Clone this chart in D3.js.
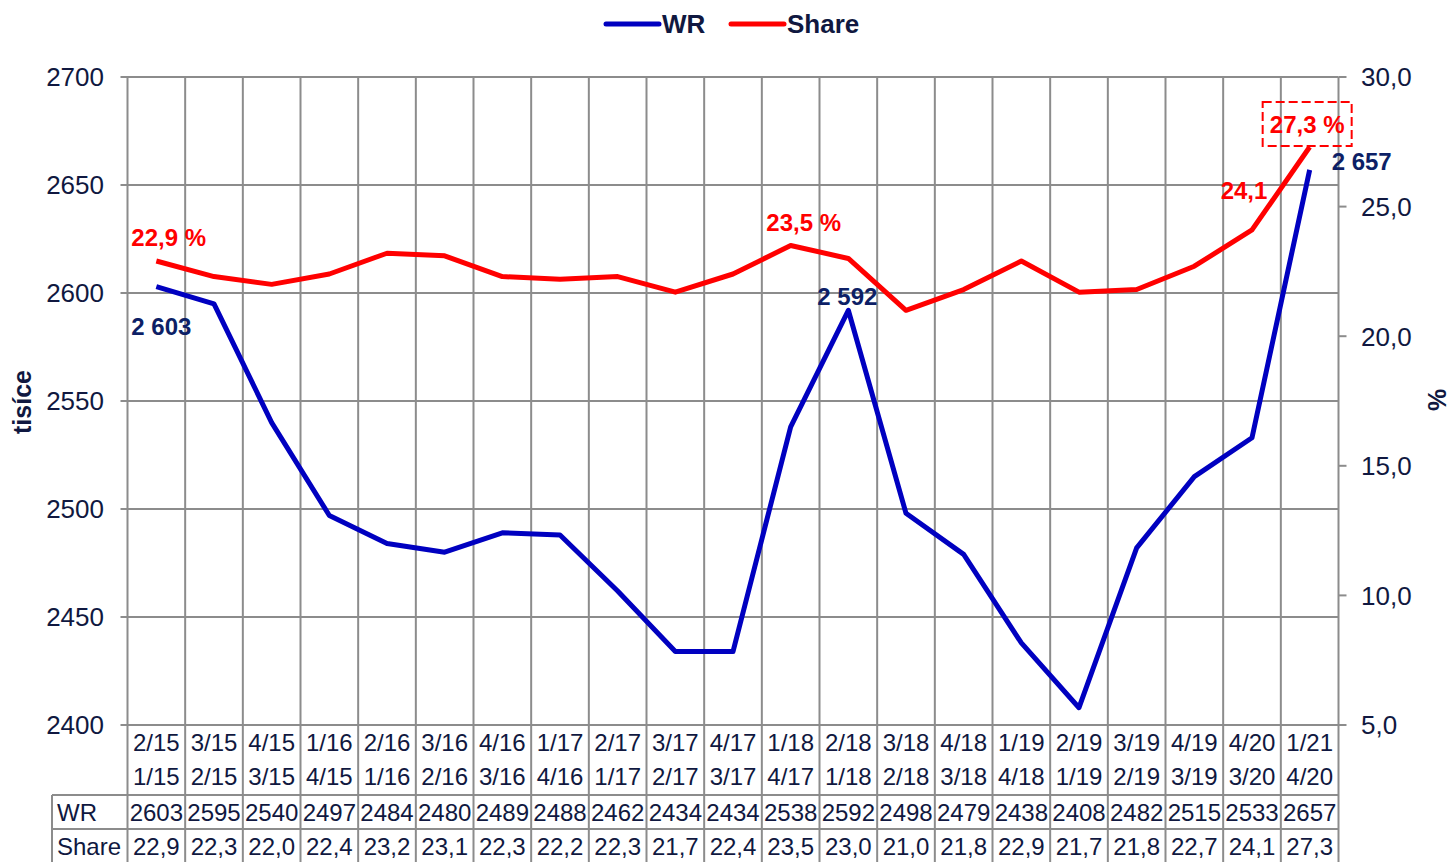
<!DOCTYPE html>
<html><head><meta charset="utf-8">
<script src="https://cdn.jsdelivr.net/npm/d3@7"></script>
<style>body{margin:0;background:#fff}svg{display:block;font-family:"Liberation Sans",Arial,sans-serif}</style>
</head><body><svg id="c" width="1451" height="862"></svg>
<script>
const catTop = ["2/15","3/15","4/15","1/16","2/16","3/16","4/16","1/17","2/17","3/17","4/17","1/18","2/18","3/18","4/18","1/19","2/19","3/19","4/19","4/20","1/21"];
const catBottom = ["1/15","2/15","3/15","4/15","1/16","2/16","3/16","4/16","1/17","2/17","3/17","4/17","1/18","2/18","3/18","4/18","1/19","2/19","3/19","3/20","4/20"];
const wr = [2603,2595,2540,2497,2484,2480,2489,2488,2462,2434,2434,2538,2592,2498,2479,2438,2408,2482,2515,2533,2657];
const share = [22.9,22.3,22.0,22.4,23.2,23.1,22.3,22.2,22.3,21.7,22.4,23.5,23.0,21.0,21.8,22.9,21.7,21.8,22.7,24.1,27.3];
const leftTicks = [2400,2450,2500,2550,2600,2650,2700];
const rightTicks = [5,10,15,20,25,30];

const svg = d3.select("#c");
const L=127.5, R=1338.5, T=77, B=725;
const txt="#101840", grid="#8c8c8c";
const idx = d3.range(wr.length);
const x = d3.scaleBand().domain(idx).range([L,R]);
const yL = d3.scaleLinear().domain([2400,2700]).range([B,T]);
const yR = d3.scaleLinear().domain([5,30]).range([B,T]);
const cx = i => x(i)+x.bandwidth()/2;
const fmtC = v => d3.format(".1f")(v).replace(".",",");

// horizontal gridlines
svg.append("g").selectAll("line").data(leftTicks).join("line")
  .attr("x1",L-7).attr("x2",R).attr("y1",d=>yL(d)).attr("y2",d=>yL(d))
  .attr("stroke",grid).attr("stroke-width",2);
// right ticks
svg.append("g").selectAll("line").data(rightTicks).join("line")
  .attr("x1",R).attr("x2",R+8).attr("y1",d=>yR(d)).attr("y2",d=>yR(d))
  .attr("stroke",grid).attr("stroke-width",2);
// vertical lines (category boundaries) through table
const bounds = idx.map(i=>x(i)).concat([R]);
svg.append("g").selectAll("line").data(bounds).join("line")
  .attr("x1",d=>d).attr("x2",d=>d).attr("y1",T).attr("y2",862)
  .attr("stroke",grid).attr("stroke-width",2);
// table lines
const rowY=[795,829,863];
svg.append("g").selectAll("line").data(rowY).join("line")
  .attr("x1",52).attr("x2",R).attr("y1",d=>d).attr("y2",d=>d)
  .attr("stroke",grid).attr("stroke-width",2);
svg.append("line").attr("x1",52).attr("x2",52).attr("y1",795).attr("y2",862).attr("stroke",grid).attr("stroke-width",2);

// axis labels
svg.append("g").selectAll("text").data(leftTicks).join("text")
  .attr("x",104).attr("y",d=>yL(d)).attr("dy","0.36em").attr("text-anchor","end")
  .attr("font-size",26).attr("fill",txt).text(d=>d);
svg.append("g").selectAll("text").data(rightTicks).join("text")
  .attr("x",1361).attr("y",d=>yR(d)).attr("dy","0.36em").attr("text-anchor","start")
  .attr("font-size",26).attr("fill",txt).text(d=>fmtC(d));
svg.append("text").attr("transform","translate(31,402) rotate(-90)").attr("text-anchor","middle")
  .attr("font-size",25).attr("font-weight","bold").attr("fill",txt).text("tisíce");
svg.append("text").attr("transform","translate(1446,400) rotate(-90)").attr("text-anchor","middle")
  .attr("font-size",25).attr("font-weight","bold").attr("fill",txt).text("%");

// table text
const tt = svg.append("g").attr("font-size",24).attr("fill",txt).attr("text-anchor","middle");
tt.selectAll(".t1").data(catTop).join("text").attr("x",(d,i)=>cx(i)).attr("y",742).attr("dy","0.36em").text(d=>d);
tt.selectAll(".t2").data(catBottom).join("text").attr("x",(d,i)=>cx(i)).attr("y",776).attr("dy","0.36em").text(d=>d);
tt.selectAll(".t3").data(wr).join("text").attr("x",(d,i)=>cx(i)).attr("y",812).attr("dy","0.36em").text(d=>d);
tt.selectAll(".t4").data(share).join("text").attr("x",(d,i)=>cx(i)).attr("y",846).attr("dy","0.36em").text(d=>fmtC(d));
svg.append("text").attr("x",57).attr("y",812).attr("dy","0.36em").attr("font-size",24).attr("fill",txt).text("WR");
svg.append("text").attr("x",57).attr("y",846).attr("dy","0.36em").attr("font-size",24).attr("fill",txt).text("Share");

// lines
const blue="#0000C0", red="#FF0000";
svg.append("path").datum(wr).attr("fill","none").attr("stroke",blue).attr("stroke-width",5)
  .attr("stroke-linejoin","round").attr("d",d3.line().x((d,i)=>cx(i)).y(d=>yL(d)));
svg.append("path").datum(share).attr("fill","none").attr("stroke",red).attr("stroke-width",5)
  .attr("stroke-linejoin","round").attr("d",d3.line().x((d,i)=>cx(i)).y(d=>yR(d)));

// data labels
const lab = (t,xx,yy,col,anchor) => svg.append("text").attr("x",xx).attr("y",yy).attr("dy","0.36em")
  .attr("text-anchor",anchor||"middle").attr("font-size",24).attr("font-weight","bold").attr("fill",col).text(t);
const navy="#0d1f66";
lab(fmtC(share[0])+" %", cx(0)-25, yR(share[0])-24, red, "start");
lab("2 603", cx(0)-25, yL(wr[0])+40, navy, "start");
lab(fmtC(share[11])+" %", cx(11)+13, yR(share[11])-23, red);
lab("2 592", cx(12)-1, yL(wr[12])-14, navy);
lab(fmtC(share[19]), cx(19)-8, yR(share[19])-40, red);
lab("2 657", cx(20)+22, yL(wr[20])-9, navy, "start");
const bx = cx(20)-47, by = yR(share[20])-45;
svg.append("rect").attr("x",bx).attr("y",by).attr("width",89).attr("height",44).attr("fill","none")
  .attr("stroke",red).attr("stroke-width",2).attr("stroke-dasharray","9,4");
lab(fmtC(share[20])+" %", bx+44.5, by+22, red);

// legend
const lg = svg.append("g");
lg.append("line").attr("x1",606).attr("x2",659).attr("y1",24).attr("y2",24).attr("stroke",blue).attr("stroke-width",5).attr("stroke-linecap","round");
lg.append("text").attr("x",662).attr("y",24).attr("dy","0.36em").attr("font-size",26).attr("font-weight","bold").attr("fill",txt).text("WR");
lg.append("line").attr("x1",731).attr("x2",784).attr("y1",24).attr("y2",24).attr("stroke",red).attr("stroke-width",5).attr("stroke-linecap","round");
lg.append("text").attr("x",787).attr("y",24).attr("dy","0.36em").attr("font-size",26).attr("font-weight","bold").attr("fill",txt).text("Share");
</script></body></html>
